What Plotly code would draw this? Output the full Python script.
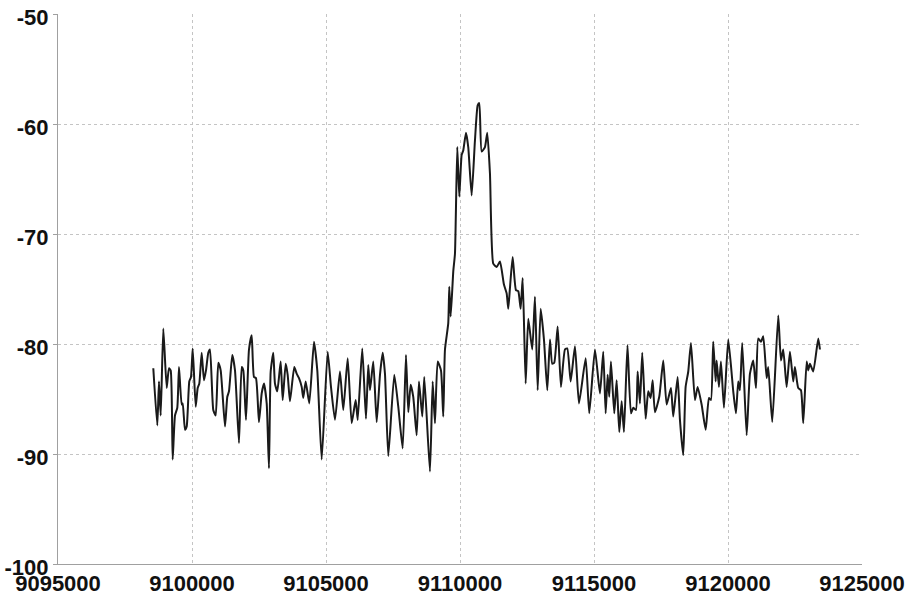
import plotly.graph_objects as go

# Spectrum trace: frequency (Hz) and level (dB)
freq_hz = [
    9098556, 9098705, 9098768, 9098832, 9098929, 9099056, 9099141, 9099205, 9099279, 9099365,
    9099451, 9099515, 9099615, 9099653, 9099738, 9099802, 9099899, 9099962, 9100026, 9100138,
    9100212, 9100272, 9100361, 9100447, 9100522, 9100608, 9100671, 9100794, 9100884, 9100981,
    9101070, 9101231, 9101317, 9101380, 9101503, 9101604, 9101753, 9101854, 9101914, 9102014,
    9102126, 9102227, 9102313, 9102387, 9102499, 9102600, 9102686, 9102787, 9102872, 9102936,
    9103033, 9103096, 9103182, 9103309, 9103384, 9103496, 9103570, 9103656, 9103816, 9103906,
    9103992, 9104093, 9104152, 9104242, 9104376, 9104551, 9104675, 9104839, 9105062, 9105186,
    9105335, 9105521, 9105645, 9105809, 9105958, 9106107, 9106182, 9106353, 9106491, 9106577,
    9106641, 9106764, 9106891, 9107014, 9107115, 9107200, 9107324, 9107547, 9107697, 9107861,
    9107984, 9108070, 9108159, 9108256, 9108383, 9108469, 9108592, 9108667, 9108879, 9108980,
    9109066, 9109167, 9109290, 9109375, 9109439, 9109562, 9109600, 9109652, 9109749, 9109812,
    9109898, 9109973, 9110062, 9110122, 9110223, 9110308, 9110435, 9110558, 9110659, 9110719,
    9110808, 9110931, 9111017, 9111118, 9111241, 9111368, 9111491, 9111640, 9111741, 9111801,
    9111864, 9111965, 9112088, 9112174, 9112263, 9112338, 9112450, 9112547, 9112696, 9112797,
    9112898, 9113010, 9113133, 9113256, 9113357, 9113442, 9113517, 9113644, 9113767, 9113916,
    9114002, 9114129, 9114290, 9114439, 9114689, 9114823, 9115035, 9115222, 9115345, 9115435,
    9115509, 9115569, 9115632, 9115756, 9115845, 9115943, 9116032, 9116118, 9116249, 9116379,
    9116465, 9116565, 9116629, 9116714, 9116800, 9116927, 9117024, 9117113, 9117188, 9117274,
    9117435, 9117584, 9117711, 9117871, 9117957, 9118121, 9118207, 9118330, 9118419, 9118517,
    9118618, 9118766, 9118867, 9119016, 9119166, 9119289, 9119364, 9119449, 9119539, 9119576,
    9119662, 9119737, 9119849, 9120009, 9120196, 9120296, 9120382, 9120445, 9120531, 9120696,
    9120819, 9120942, 9121043, 9121128, 9121229, 9121315, 9121442, 9121502, 9121651, 9121875,
    9121976, 9122061, 9122188, 9122311, 9122434, 9122497, 9122621, 9122722, 9122808, 9122935,
    9122994, 9123058, 9123181, 9123368, 9123431,
]

level_db = [
    -82.2, -87.4, -83.4, -86.5, -78.6, -84.0, -82.2, -82.4, -90.5, -86.5,
    -85.8, -82.1, -85.5, -85.4, -87.8, -87.5, -83.4, -83.0, -80.4, -85.7,
    -84.0, -83.6, -80.8, -83.3, -82.4, -80.8, -80.5, -86.0, -86.5, -81.7,
    -82.4, -87.5, -84.8, -84.3, -81.0, -82.4, -89.0, -82.1, -82.4, -86.9,
    -80.5, -79.2, -83.0, -83.1, -87.1, -84.5, -83.6, -85.4, -91.3, -82.5,
    -80.8, -83.6, -84.3, -81.6, -85.1, -81.8, -82.8, -85.2, -82.1, -82.7,
    -83.1, -83.9, -84.9, -83.4, -85.4, -79.8, -82.4, -90.5, -80.7, -83.9,
    -86.9, -82.5, -86.0, -81.3, -87.2, -85.1, -86.9, -80.4, -86.8, -81.9,
    -84.2, -81.6, -87.1, -82.8, -80.8, -82.7, -90.2, -82.8, -85.7, -89.5,
    -81.0, -86.2, -83.7, -84.8, -88.3, -83.4, -86.6, -83.0, -91.6, -83.4,
    -87.2, -81.6, -82.4, -86.6, -80.5, -78.1, -74.8, -77.5, -73.4, -71.8,
    -62.1, -66.6, -62.8, -62.4, -60.8, -62.1, -66.5, -61.5, -58.3, -58.1,
    -62.5, -62.1, -60.8, -64.5, -72.7, -73.0, -72.5, -74.6, -75.4, -76.8,
    -74.9, -72.1, -75.1, -75.2, -76.8, -74.0, -83.6, -77.7, -80.5, -75.7,
    -84.2, -76.8, -79.6, -84.2, -79.6, -81.8, -81.7, -78.4, -83.9, -80.5,
    -80.4, -83.4, -80.2, -85.4, -81.3, -86.3, -80.5, -84.5, -80.7, -86.3,
    -82.8, -84.8, -81.6, -86.3, -83.3, -88.0, -85.2, -88.0, -80.1, -86.3,
    -85.8, -86.0, -82.5, -85.4, -80.8, -86.8, -84.3, -84.9, -83.3, -86.2,
    -84.8, -81.5, -85.5, -84.0, -86.6, -83.0, -86.9, -90.1, -83.9, -82.5,
    -79.9, -85.1, -83.9, -85.5, -87.8, -84.9, -85.1, -79.8, -83.4, -81.5,
    -83.9, -81.6, -85.8, -79.6, -84.3, -86.3, -83.4, -84.2, -79.9, -88.3,
    -82.7, -81.5, -84.0, -79.5, -79.8, -79.3, -83.1, -82.1, -87.1, -77.4,
    -81.5, -80.5, -83.9, -80.7, -83.4, -82.1, -84.0, -84.2, -87.2, -81.6,
    -82.4, -81.8, -82.5, -79.5, -80.5,
]

x_ticks = [9095000, 9100000, 9105000, 9110000, 9115000, 9120000, 9125000]
y_ticks = [-100, -90, -80, -70, -60, -50]

tick_font = dict(family="Arial, Liberation Sans, sans-serif", size=22,
                 color="#111111", weight="bold")

fig = go.Figure(
    go.Scatter(
        x=freq_hz,
        y=level_db,
        mode="lines",
        line=dict(color="#1a1a1a", width=2, shape="spline", smoothing=0.5),
        showlegend=False,
        hoverinfo="x+y",
    )
)

fig.update_xaxes(
    range=[9095000, 9125000],
    tickvals=x_ticks,
    ticktext=[str(v) for v in x_ticks],
    tickfont=tick_font,
    showgrid=True,
    gridcolor="#c4c4c4",
    gridwidth=1,
    griddash="dot",
    showline=True,
    linecolor="#a0a0a0",
    linewidth=1,
    ticks="",
    ticklabelstandoff=0,
    zeroline=False,
    automargin=False,
)

fig.update_yaxes(
    range=[-100, -50],
    tickvals=y_ticks,
    ticktext=[str(v) for v in y_ticks],
    tickfont=tick_font,
    showgrid=True,
    gridcolor="#c4c4c4",
    gridwidth=1,
    griddash="dot",
    showline=True,
    linecolor="#a0a0a0",
    linewidth=1,
    ticks="outside",
    ticklen=4,
    tickcolor="#a0a0a0",
    ticklabelshift=3,
    zeroline=False,
    automargin=False,
)

fig.update_layout(
    width=910,
    height=597,
    margin=dict(l=58, r=48, t=14, b=33),
    paper_bgcolor="white",
    plot_bgcolor="white",
)

fig.write_html("out.html")
